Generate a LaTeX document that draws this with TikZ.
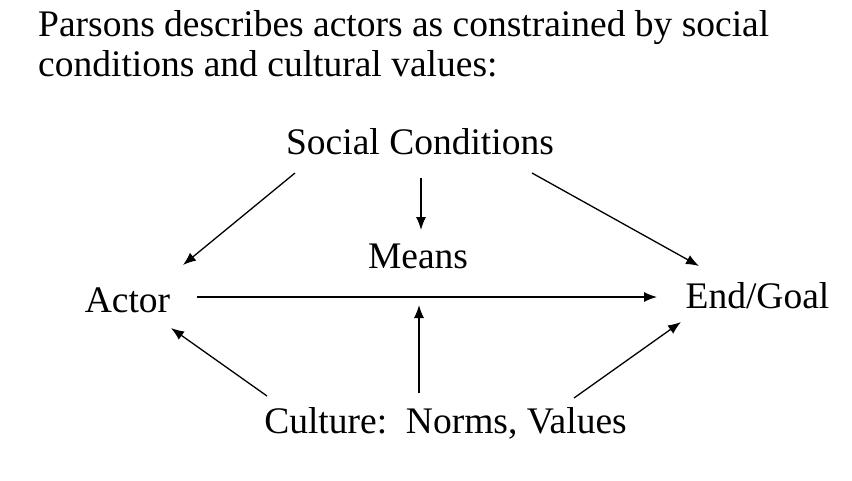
\documentclass[tikz,border=0pt]{standalone}
\usepackage{fontspec}
\setmainfont{Liberation Serif}
\usepackage{tikz}
\usetikzlibrary{arrows.meta}

\begin{document}
\begin{tikzpicture}[x=1pt, y=-1pt,
        label/.style={inner sep=0pt, anchor=base, font=\fontsize{37.5}{40}\selectfont},
        link/.style={line width=1.3pt, -{Latex[length=13pt, width=10pt]}}]
        \useasboundingbox (0,0) rectangle (852,480);

        \node[label, anchor=base west] (line1) at (38,36) {Parsons describes actors as constrained by social};
        \node[label, anchor=base west] (line2) at (38,76) {conditions and cultural values:};

        \node[label] (social) at (420,154) {Social Conditions};
        \node[label] (means) at (418,268) {Means};
        \node[label] (actor) at (127.5,312) {Actor};
        \node[label] (goal) at (757.5,308) {End/Goal};
        \node[label] (culture) at (445.5,433) {Culture:\ \ Norms, Values};

        \draw[link] ([shift={(-125,19)}]social.base) -- ([shift={(55.5,-47)}]actor.base);
        \draw[link] ([shift={(1,24)}]social.base) -- ([shift={(3,-38)}]means.base);
        \draw[link] ([shift={(112,19)}]social.base) -- ([shift={(-58.5,-42)}]goal.base);
        \draw[link] ([shift={(69.5,-15)}]actor.base) -- ([shift={(-100.5,-11)}]goal.base);
        \draw[link] ([shift={(-26.5,-40)}]culture.base) -- ([shift={(1,37)}]means.base);
        \draw[link] ([shift={(-178.5,-37)}]culture.base) -- ([shift={(43.5,16)}]actor.base);
        \draw[link] ([shift={(128.5,-35)}]culture.base) -- ([shift={(-76.5,14)}]goal.base);
    \end{tikzpicture}
\end{document}
